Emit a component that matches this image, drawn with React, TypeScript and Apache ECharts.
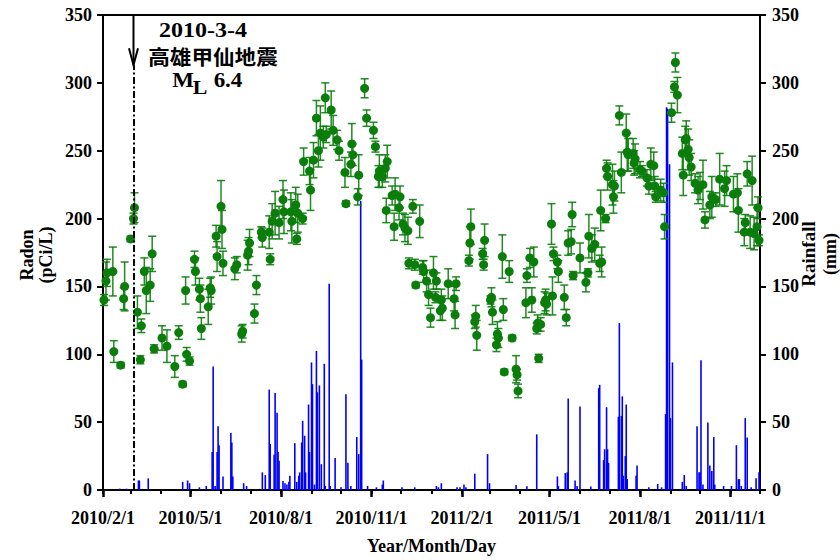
import React, { useEffect, useRef } from "react";
import * as echarts from "echarts";

// Axis range and ticks
const X_MIN = "2010-02-01";
const X_MAX = "2011-12-01";
const majorTickDates = [
  "2010-02-01", "2010-05-01", "2010-08-01", "2010-11-01",
  "2011-02-01", "2011-05-01", "2011-08-01", "2011-11-01",
];
const monthTickDates = [
  "2010-02-01", "2010-03-01", "2010-04-01", "2010-05-01", "2010-06-01", "2010-07-01",
  "2010-08-01", "2010-09-01", "2010-10-01", "2010-11-01", "2010-12-01", "2011-01-01",
  "2011-02-01", "2011-03-01", "2011-04-01", "2011-05-01", "2011-06-01", "2011-07-01",
  "2011-08-01", "2011-09-01", "2011-10-01", "2011-11-01", "2011-12-01",
];
const yTicks = [0, 50, 100, 150, 200, 250, 300, 350];

// Earthquake marker
const QUAKE_DATE = "2010-03-04";
const quakeTitle = "2010-3-4";
const quakeName = "高雄甲仙地震";
const quakeMag = "6.4";

// Radon concentration: [date, pCi/L, error]
const radon: [string, number, number][] = [
  ["2010-02-02", 140, 4], ["2010-02-04", 154, 14], ["2010-02-05", 160, 10], ["2010-02-11", 161, 18],
  ["2010-02-12", 102, 8], ["2010-02-19", 92, 2], ["2010-02-22", 141, 8], ["2010-02-23", 150, 18],
  ["2010-03-01", 185, 2], ["2010-03-04", 200, 4], ["2010-03-05", 208, 11], ["2010-03-08", 131, 12],
  ["2010-03-11", 96, 3], ["2010-03-12", 121, 5], ["2010-03-15", 161, 10], ["2010-03-17", 147, 17],
  ["2010-03-21", 151, 12], ["2010-03-23", 174, 13], ["2010-03-25", 104, 3], ["2010-04-02", 112, 9],
  ["2010-04-07", 106, 12], ["2010-04-15", 91, 8], ["2010-04-19", 116, 5], ["2010-04-23", 78, 2],
  ["2010-04-26", 147, 10], ["2010-04-27", 100, 5], ["2010-04-30", 95, 3], ["2010-05-05", 170, 6],
  ["2010-05-06", 161, 10], ["2010-05-10", 148, 8], ["2010-05-11", 141, 10], ["2010-05-12", 119, 8],
  ["2010-05-19", 135, 13], ["2010-05-21", 149, 7], ["2010-05-22", 147, 10], ["2010-05-27", 187, 8],
  ["2010-05-28", 172, 11], ["2010-06-01", 209, 19], ["2010-06-02", 192, 14], ["2010-06-03", 167, 9],
  ["2010-06-15", 163, 8], ["2010-06-17", 166, 6], ["2010-06-22", 115, 6], ["2010-06-23", 117, 5],
  ["2010-06-28", 173, 11], ["2010-06-29", 176, 10], ["2010-06-30", 182, 10], ["2010-07-05", 130, 7],
  ["2010-07-07", 151, 7], ["2010-07-12", 190, 4], ["2010-07-13", 186, 7], ["2010-07-20", 190, 12],
  ["2010-07-21", 170, 4], ["2010-07-23", 198, 13], ["2010-07-26", 204, 16], ["2010-07-30", 197, 12],
  ["2010-08-03", 214, 14], ["2010-08-04", 205, 16], ["2010-08-11", 205, 14], ["2010-08-12", 198, 16],
  ["2010-08-16", 210, 13], ["2010-08-17", 185, 4], ["2010-08-18", 204, 14], ["2010-08-23", 200, 4],
  ["2010-08-24", 242, 10], ["2010-08-30", 235, 10], ["2010-08-31", 221, 15], ["2010-09-03", 243, 13],
  ["2010-09-06", 274, 13], ["2010-09-08", 250, 12], ["2010-09-10", 263, 20], ["2010-09-13", 260, 8],
  ["2010-09-15", 289, 11], ["2010-09-16", 262, 6], ["2010-09-21", 280, 14], ["2010-09-23", 265, 11],
  ["2010-09-27", 258, 7], ["2010-09-29", 250, 7], ["2010-10-05", 234, 11], ["2010-10-06", 211, 2],
  ["2010-10-11", 240, 9], ["2010-10-12", 255, 15], ["2010-10-13", 247, 8], ["2010-10-18", 216, 6],
  ["2010-10-19", 232, 15], ["2010-10-25", 296, 7], ["2010-10-27", 274, 6], ["2010-11-03", 265, 6],
  ["2010-11-05", 253, 4], ["2010-11-08", 231, 8], ["2010-11-09", 235, 12], ["2010-11-12", 231, 8],
  ["2010-11-15", 237, 10], ["2010-11-16", 206, 9], ["2010-11-17", 242, 12], ["2010-11-22", 217, 7],
  ["2010-11-24", 194, 10], ["2010-11-25", 218, 12], ["2010-11-29", 208, 9], ["2010-11-30", 216, 8],
  ["2010-12-03", 196, 8], ["2010-12-05", 193, 10], ["2010-12-08", 191, 10], ["2010-12-09", 167, 4],
  ["2010-12-13", 209, 5], ["2010-12-15", 166, 4], ["2010-12-16", 151, 2], ["2010-12-20", 198, 12],
  ["2010-12-23", 164, 5], ["2010-12-24", 161, 8], ["2010-12-27", 154, 8], ["2010-12-29", 144, 8],
  ["2010-12-31", 127, 7], ["2011-01-03", 160, 12], ["2011-01-05", 142, 4], ["2011-01-06", 154, 6],
  ["2011-01-10", 132, 7], ["2011-01-11", 140, 8], ["2011-01-12", 134, 9], ["2011-01-18", 152, 11],
  ["2011-01-24", 141, 9], ["2011-01-25", 129, 10], ["2011-01-26", 152, 5], ["2011-02-08", 169, 4],
  ["2011-02-09", 182, 12], ["2011-02-10", 194, 13], ["2011-02-14", 124, 5], ["2011-02-15", 128, 8],
  ["2011-02-16", 114, 11], ["2011-02-22", 174, 4], ["2011-02-23", 166, 4], ["2011-02-24", 184, 12],
  ["2011-03-02", 140, 3], ["2011-03-03", 142, 7], ["2011-03-04", 131, 9], ["2011-03-08", 107, 5],
  ["2011-03-09", 115, 9], ["2011-03-10", 112, 7], ["2011-03-14", 172, 16], ["2011-03-15", 133, 8],
  ["2011-03-16", 87, 2], ["2011-03-21", 161, 8], ["2011-03-24", 112, 2], ["2011-03-28", 89, 10],
  ["2011-03-29", 85, 4], ["2011-03-30", 73, 5], ["2011-04-07", 138, 11], ["2011-04-08", 158, 5],
  ["2011-04-11", 171, 7], ["2011-04-13", 140, 9], ["2011-04-15", 168, 11], ["2011-04-18", 119, 4],
  ["2011-04-19", 123, 6], ["2011-04-20", 97, 3], ["2011-04-22", 122, 5], ["2011-04-26", 138, 8],
  ["2011-04-27", 140, 8], ["2011-04-28", 137, 8], ["2011-05-03", 196, 15], ["2011-05-04", 143, 14],
  ["2011-05-05", 174, 5], ["2011-05-09", 168, 5], ["2011-05-10", 161, 8], ["2011-05-16", 142, 9],
  ["2011-05-18", 127, 6], ["2011-05-20", 182, 9], ["2011-05-23", 183, 9], ["2011-05-24", 203, 9],
  ["2011-05-25", 158, 3], ["2011-06-01", 171, 11], ["2011-06-07", 153, 7], ["2011-06-09", 160, 3],
  ["2011-06-10", 187, 16], ["2011-06-13", 178, 10], ["2011-06-16", 181, 12], ["2011-06-21", 167, 6],
  ["2011-06-22", 206, 15], ["2011-06-23", 168, 11], ["2011-06-27", 200, 3], ["2011-06-28", 237, 6],
  ["2011-06-29", 231, 10], ["2011-07-04", 225, 15], ["2011-07-05", 216, 12], ["2011-07-06", 224, 11],
  ["2011-07-11", 276, 7], ["2011-07-13", 234, 15], ["2011-07-18", 263, 14], ["2011-07-19", 249, 14],
  ["2011-07-20", 247, 12], ["2011-07-25", 248, 11], ["2011-07-26", 241, 9], ["2011-07-27", 244, 11],
  ["2011-08-01", 236, 6], ["2011-08-03", 235, 4], ["2011-08-08", 230, 6], ["2011-08-10", 224, 6],
  ["2011-08-12", 240, 12], ["2011-08-15", 239, 10], ["2011-08-16", 224, 7], ["2011-08-17", 216, 4],
  ["2011-08-22", 221, 8], ["2011-08-25", 219, 7], ["2011-08-26", 194, 9], ["2011-09-02", 278, 7],
  ["2011-09-05", 297, 4], ["2011-09-06", 315, 7], ["2011-09-08", 291, 13], ["2011-09-13", 248, 12],
  ["2011-09-14", 232, 15], ["2011-09-16", 258, 10], ["2011-09-17", 259, 13], ["2011-09-19", 251, 15],
  ["2011-09-20", 245, 13], ["2011-09-22", 238, 10], ["2011-09-26", 226, 7], ["2011-09-29", 221, 10],
  ["2011-10-01", 224, 10], ["2011-10-04", 225, 18], ["2011-10-06", 199, 6], ["2011-10-11", 210, 10],
  ["2011-10-13", 216, 15], ["2011-10-17", 214, 5], ["2011-10-21", 229, 19], ["2011-10-26", 222, 13],
  ["2011-10-28", 228, 11], ["2011-11-04", 218, 13], ["2011-11-08", 219, 14], ["2011-11-09", 206, 16],
  ["2011-11-15", 190, 10], ["2011-11-16", 197, 6], ["2011-11-18", 233, 9], ["2011-11-21", 190, 12],
  ["2011-11-23", 228, 18], ["2011-11-25", 189, 12], ["2011-11-28", 194, 14], ["2011-11-29", 208, 8],
  ["2011-11-30", 184, 4],
];

// Daily rainfall: [date, mm]
const rainfall: [string, number][] = [
  ["2010-02-18", 1], ["2010-02-25", 1], ["2010-03-09", 7], ["2010-03-10", 7], ["2010-03-19", 8.6],
  ["2010-04-23", 6], ["2010-04-28", 7], ["2010-04-30", 5], ["2010-05-10", 2], ["2010-05-17", 3],
  ["2010-05-23", 28], ["2010-05-24", 91], ["2010-05-26", 3], ["2010-05-28", 28], ["2010-05-29", 47],
  ["2010-05-30", 33], ["2010-06-03", 10], ["2010-06-11", 42], ["2010-06-12", 35], ["2010-06-13", 10],
  ["2010-06-24", 5], ["2010-06-27", 3], ["2010-07-13", 13], ["2010-07-16", 11], ["2010-07-20", 74],
  ["2010-07-21", 34], ["2010-07-25", 26], ["2010-07-26", 71.5], ["2010-07-28", 57], ["2010-07-29", 28],
  ["2010-07-30", 21.5], ["2010-08-03", 6.6], ["2010-08-05", 5], ["2010-08-07", 4], ["2010-08-09", 6],
  ["2010-08-10", 10.5], ["2010-08-15", 34.5], ["2010-08-17", 6], ["2010-08-19", 10.5], ["2010-08-20", 13],
  ["2010-08-22", 35], ["2010-08-23", 51], ["2010-08-25", 40], ["2010-08-26", 13], ["2010-08-29", 63],
  ["2010-08-30", 28], ["2010-09-01", 94], ["2010-09-02", 78], ["2010-09-04", 4], ["2010-09-06", 102.5],
  ["2010-09-07", 72], ["2010-09-09", 77], ["2010-09-11", 19], ["2010-09-14", 93], ["2010-09-15", 3],
  ["2010-09-19", 152], ["2010-09-20", 3], ["2010-09-25", 23.5], ["2010-10-01", 2], ["2010-10-06", 70.5],
  ["2010-10-08", 20], ["2010-10-11", 3], ["2010-10-17", 39], ["2010-10-19", 26.5], ["2010-10-21", 213],
  ["2010-10-22", 96], ["2010-10-28", 3], ["2010-11-06", 2], ["2010-11-12", 4], ["2010-11-13", 7],
  ["2010-12-02", 2], ["2010-12-15", 2], ["2011-01-06", 3], ["2011-01-08", 2], ["2011-01-11", 5],
  ["2011-01-27", 2], ["2011-01-30", 2], ["2011-02-03", 4], ["2011-02-05", 2], ["2011-02-14", 12],
  ["2011-02-27", 26.5], ["2011-03-01", 5], ["2011-03-28", 3.7], ["2011-04-08", 2.7], ["2011-04-18", 41],
  ["2011-05-09", 10], ["2011-05-10", 3], ["2011-05-17", 12.5], ["2011-05-19", 13], ["2011-05-20", 67.4],
  ["2011-05-27", 7], ["2011-05-29", 3], ["2011-06-01", 61.5], ["2011-06-12", 2.5], ["2011-06-20", 75],
  ["2011-06-21", 77.5], ["2011-06-25", 22], ["2011-06-26", 30], ["2011-06-28", 61], ["2011-06-29", 30],
  ["2011-06-30", 20], ["2011-07-10", 54], ["2011-07-11", 123], ["2011-07-13", 54.6], ["2011-07-14", 69],
  ["2011-07-15", 10.5], ["2011-07-17", 25], ["2011-07-18", 63], ["2011-07-19", 8], ["2011-07-28", 10.5],
  ["2011-07-29", 18], ["2011-08-10", 2], ["2011-08-19", 4.4], ["2011-08-23", 2], ["2011-08-27", 56],
  ["2011-08-28", 282], ["2011-08-29", 281], ["2011-08-31", 240], ["2011-09-01", 53], ["2011-09-03", 94],
  ["2011-09-13", 6], ["2011-09-15", 11], ["2011-09-17", 3], ["2011-09-28", 47], ["2011-09-30", 13],
  ["2011-10-01", 13], ["2011-10-02", 95.6], ["2011-10-04", 4], ["2011-10-09", 49.7], ["2011-10-11", 18],
  ["2011-10-13", 14], ["2011-10-15", 39], ["2011-10-16", 4], ["2011-10-25", 3], ["2011-11-02", 3],
  ["2011-11-07", 33], ["2011-11-09", 8], ["2011-11-10", 8], ["2011-11-12", 3], ["2011-11-16", 53],
  ["2011-11-18", 38.7], ["2011-11-22", 2], ["2011-11-27", 8.6], ["2011-11-30", 13],
];

const SERIF = '"Liberation Serif", "Times New Roman", serif';
const CJK = '"Noto Sans CJK TC", "Noto Sans CJK SC", sans-serif';
const DOT_COLOR = "#0a7d0a";
const ERR_COLOR = "rgba(10,125,10,0.9)";
const RAIN_COLOR = "#0000ff";

function toTime(s: string): number {
  const [y, m, d] = s.split("-").map(Number);
  return new Date(y, m - 1, d).getTime();
}

function fmtDate(v: number): string {
  const d = new Date(v);
  return `${d.getFullYear()}/${d.getMonth() + 1}/${d.getDate()}`;
}

export default function App() {
  const ref = useRef<HTMLDivElement>(null);

  useEffect(() => {
    if (!ref.current) return;
    const chart = echarts.init(ref.current, undefined, { renderer: "svg" });
    const xMin = toTime(X_MIN);
    const xMax = toTime(X_MAX);
    const quakeT = toTime(QUAKE_DATE);
    const labelStyle = { color: "#000", fontFamily: SERIF, fontWeight: "bold" as const, fontSize: 18 };

    const yAxisBase = {
      type: "value" as const,
      min: yTicks[0],
      max: yTicks[yTicks.length - 1],
      interval: yTicks[1] - yTicks[0],
      splitLine: { show: false },
      axisLine: { show: true, lineStyle: { color: "#000", width: 2 } },
      axisTick: { show: true, inside: false, length: 6, lineStyle: { color: "#000", width: 2 } },
    };

    // Dates are plotted as timestamps on a linear axis so that the
    // month ticks can be placed at exact calendar positions.
    chart.setOption({
      animation: false,
      backgroundColor: "#fff",
      grid: {
        left: 103, right: 80, top: 15, bottom: 69,
        show: true, borderColor: "#000", borderWidth: 2, backgroundColor: "transparent",
      },
      xAxis: [
        {
          type: "value",
          min: xMin,
          max: xMax,
          position: "bottom",
          offset: 0,
          splitLine: { show: false },
          axisLine: { show: true, onZero: false, lineStyle: { color: "#000", width: 2 } },
          axisTick: {
            show: true, inside: false, length: 7,
            customValues: majorTickDates.map(toTime),
            lineStyle: { color: "#000", width: 2.5 },
          },
          axisLabel: {
            ...labelStyle,
            margin: 19,
            customValues: majorTickDates.map(toTime),
            formatter: (v: number) => fmtDate(v),
          },
          name: "Year/Month/Day",
          nameLocation: "middle",
          nameGap: 47,
          nameTextStyle: { ...labelStyle },
        },
        {
          type: "value",
          min: xMin,
          max: xMax,
          position: "bottom",
          offset: 0,
          splitLine: { show: false },
          axisLine: { show: false, onZero: false },
          axisTick: {
            show: true, inside: false, length: 4,
            customValues: monthTickDates.map(toTime),
            lineStyle: { color: "#000", width: 2 },
          },
          axisLabel: { show: false },
        },
      ],
      yAxis: [
        { ...yAxisBase, position: "left", axisLabel: { ...labelStyle, margin: 11 } },
        { ...yAxisBase, position: "right", axisLabel: { ...labelStyle, margin: 12 } },
      ],
      series: [
        {
          name: "Rainfall",
          type: "bar",
          xAxisIndex: 0,
          yAxisIndex: 1,
          barWidth: 1.6,
          itemStyle: { color: RAIN_COLOR },
          z: 1,
          data: rainfall.map(([d, v]) => [toTime(d), v]),
        },
        {
          name: "RadonError",
          type: "custom",
          xAxisIndex: 0,
          yAxisIndex: 0,
          z: 2,
          dimensions: ["date", "low", "high"],
          encode: { x: 0, y: [1, 2] },
          data: radon.map(([d, v, e]) => [toTime(d), v - e, v + e]),
          renderItem: (_params: any, api: any) => {
            const t = api.value(0);
            const lo = api.coord([t, api.value(1)]);
            const hi = api.coord([t, api.value(2)]);
            const cap = 4;
            const style = { stroke: ERR_COLOR, lineWidth: 1.5 };
            return {
              type: "group",
              children: [
                { type: "line", shape: { x1: lo[0], y1: lo[1], x2: hi[0], y2: hi[1] }, style },
                { type: "line", shape: { x1: hi[0] - cap, y1: hi[1], x2: hi[0] + cap, y2: hi[1] }, style },
                { type: "line", shape: { x1: lo[0] - cap, y1: lo[1], x2: lo[0] + cap, y2: lo[1] }, style },
              ],
            };
          },
        },
        {
          name: "Radon",
          type: "scatter",
          xAxisIndex: 0,
          yAxisIndex: 0,
          z: 3,
          symbol: "circle",
          symbolSize: 9,
          itemStyle: { color: DOT_COLOR, opacity: 1 },
          data: radon.map(([d, v]) => [toTime(d), v]),
          markLine: {
            silent: true,
            symbol: ["none", "none"],
            label: { show: false },
            lineStyle: { color: "#000", width: 2, type: [7, 2.5, 2, 2.5] },
            data: [[{ coord: [quakeT, 0] }, { coord: [quakeT, 313] }]],
          },
        },
      ],
    });

    // Arrow head and labels of the earthquake marker, placed on the axis scale
    const qx = chart.convertToPixel({ xAxisIndex: 0 }, quakeT) as number;
    const yTop = chart.convertToPixel({ yAxisIndex: 0 }, 350) as number;
    const yTip = chart.convertToPixel({ yAxisIndex: 0 }, 313) as number;
    const arrowStyle = { stroke: "#000", lineWidth: 2, fill: "none" };
    const txt = (text: string, x: number, y: number, size: number, family = SERIF, extra: any = {}) => ({
      type: "text",
      x, y,
      ...extra,
      style: {
        text, x: 0, y: 0,
        fontFamily: family, fontWeight: "bold", fontSize: size,
        fill: "#000", textAlign: "center", textVerticalAlign: "middle",
      },
    });

    chart.setOption({
      graphic: [
        { type: "line", shape: { x1: qx, y1: yTop, x2: qx, y2: yTip }, style: arrowStyle },
        {
          type: "polyline",
          shape: { points: [[qx - 4.5, yTip - 17], [qx, yTip], [qx + 4.5, yTip - 17]] },
          style: arrowStyle,
        },
        txt(quakeTitle, 203, 30, 20, SERIF, { scaleX: 1.2 }),
        txt(quakeName, 213, 56, 20, CJK, { scaleX: 1.08 }),
        txt("M", 183, 81, 20, SERIF, { scaleX: 1.15 }),
        txt("L", 200, 88, 19, SERIF, { scaleX: 1.15 }),
        txt(quakeMag, 228, 81, 20, SERIF, { scaleX: 1.15 }),
        txt("Radon", 27, 255, 18, SERIF, { rotation: Math.PI / 2 }),
        txt("(pCi/L)", 46, 255, 18, SERIF, { rotation: Math.PI / 2 }),
        txt("Rainfall", 808, 254, 19, SERIF, { rotation: Math.PI / 2 }),
        txt("(mm)", 830, 254, 18, SERIF, { rotation: Math.PI / 2 }),
      ],
    });

    return () => chart.dispose();
  }, []);

  return (
    <div
      ref={ref}
      style={{ position: "absolute", left: 0, top: 0, width: 840, height: 560 }}
    />
  );
}
